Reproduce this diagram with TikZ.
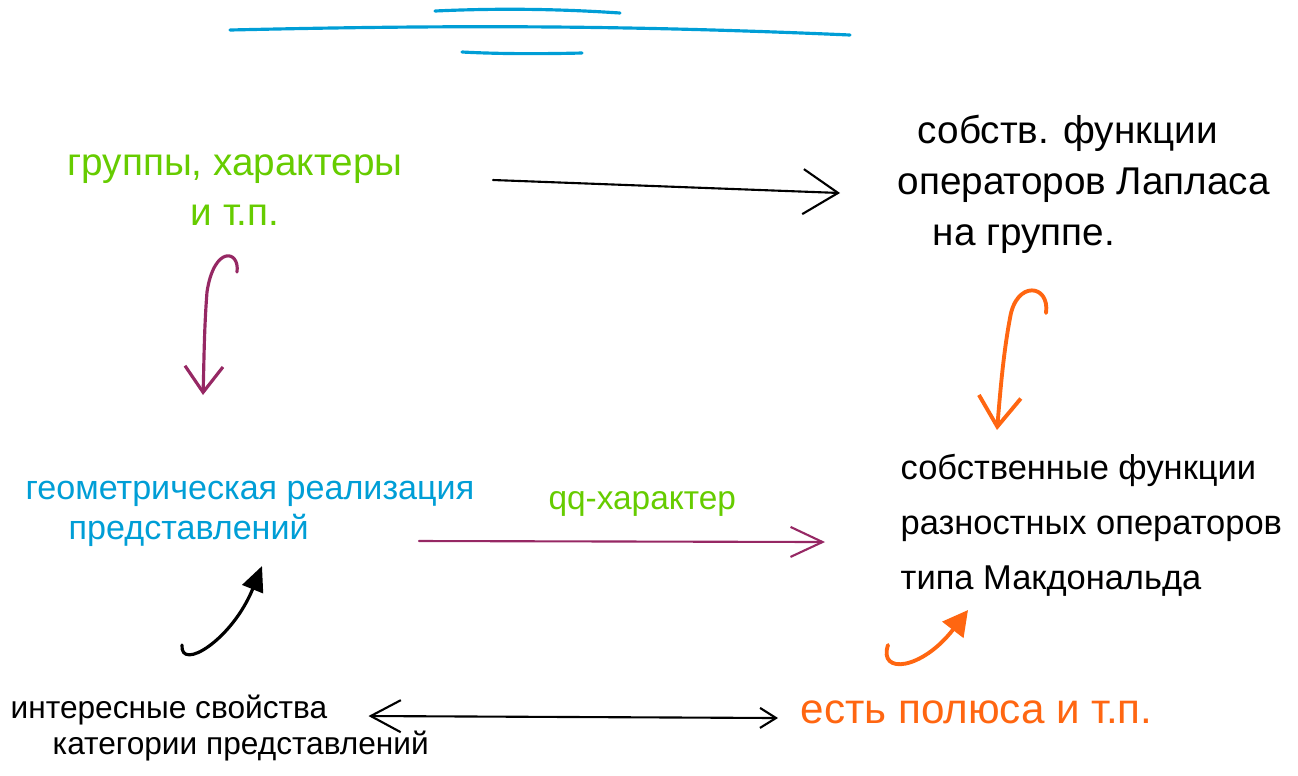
\documentclass[tikz,border=0pt]{standalone}
\usepackage{fontspec}
\setmainfont{Liberation Sans}
\usetikzlibrary{arrows.meta,calc}
\definecolor{penGreen}{RGB}{102,204,0}
\definecolor{penBlue}{RGB}{0,158,214}
\definecolor{penPurple}{RGB}{150,40,100}
\definecolor{penOrange}{RGB}{255,102,17}

\begin{document}
\begin{tikzpicture}[x=0.01cm, y=-0.01cm, line cap=round, line join=round,
      txt/.style = {inner sep=0pt, font=\fontsize{11}{14}\selectfont},
      barb/.style = {-{Straight Barb[length=3.5mm, width=4.5mm]}, line width=0.6pt},
      hook/.style = {line width=0.9pt},
      rule/.style = {penBlue, line width=0.9pt}]
      \useasboundingbox (0,0) rectangle (1298,775);

      \draw[rule] (435,11) .. controls (500,8) and (560,9) .. (620,13);
      \draw[rule] (230,30) .. controls (450,25) and (620,25) .. (850,35);
      \draw[rule] (462,52) .. controls (500,54) and (540,54) .. (582,53);

      \node[txt, penGreen, align=center] (1) at (235,190) {группы, характеры\\и т.п.};
      \node[txt, align=left, anchor=west, font=\fontsize{11}{14.5}\selectfont] (2) at (897,184)
            {\hspace*{0.2cm}собств. функции\\операторов Лапласа\\\hspace*{0.35cm}на группе.};
      \node[txt, penBlue, align=left, anchor=west, font=\fontsize{9.7}{11.5}\selectfont] (3) at (25,514)
            {геометрическая реализация\\\hspace*{0.43cm}представлений};
      \node[txt, align=left, anchor=west, font=\fontsize{9.8}{15.6}\selectfont] (4) at (900,525)
            {собственные функции\\разностных операторов\\типа Макдональда};
      \node[txt, align=left, anchor=west, font=\fontsize{9}{10.5}\selectfont] (5) at (10,728)
            {интересные свойства\\\hspace*{0.42cm}категории представлений};
      \node[txt, penOrange, anchor=west, font=\fontsize{12}{14}\selectfont] (6) at (800,712) {есть полюса и т.п.};

      \coordinate (a1) at (237,272);
      \coordinate (b1) at (203,395);
      \coordinate (a2) at (1046,313);
      \coordinate (b2) at (997,430);
      \coordinate (a3) at (182,645);
      \coordinate (b3) at (262,566);
      \coordinate (a4) at (888,645);
      \coordinate (b4) at (968,610);

      \draw[barb] ($(1.east)+(90,-10)$) -- ($(2.west)+(-57,9)$);
      \draw[barb, penPurple, -{Straight Barb[length=3.2mm, width=3mm]}] ($(3.east)+(-56,27)$)
            -- node[txt, penGreen, above=2.4mm, pos=0.55, font=\fontsize{9.5}{11}\selectfont] (7) {qq-характер}
            ($(4.west)+(-75,17)$);
      \draw[barb, {Straight Barb[length=3mm, width=3.2mm]}-{Straight Barb[length=1.6mm, width=2mm]}]
            ($(5.east)+(-61,-12)$) -- ($(6.west)+(-22,6)$);

      \draw[hook, penPurple, -{Straight Barb[length=2.6mm, width=3.8mm]}] (a1)
            .. controls (240,250) and (214,245) .. (207,292)
            .. controls (204,330) and (204,365) .. (b1);
      \draw[hook, penOrange, line width=1.1pt, -{Straight Barb[length=3mm, width=4.2mm]}] (a2)
            .. controls (1050,284) and (1016,280) .. (1010,318)
            .. controls (1003,355) and (1000,395) .. (b2);
      \draw[hook, -{Triangle[length=2.5mm, width=2.2mm]}] (a3)
            .. controls (180,672) and (232,640) .. (b3);
      \draw[hook, penOrange, line width=1.1pt, -{Triangle[length=2.5mm, width=2.6mm]}] (a4)
            .. controls (878,675) and (922,670) .. (b4);
\end{tikzpicture}
\end{document}
